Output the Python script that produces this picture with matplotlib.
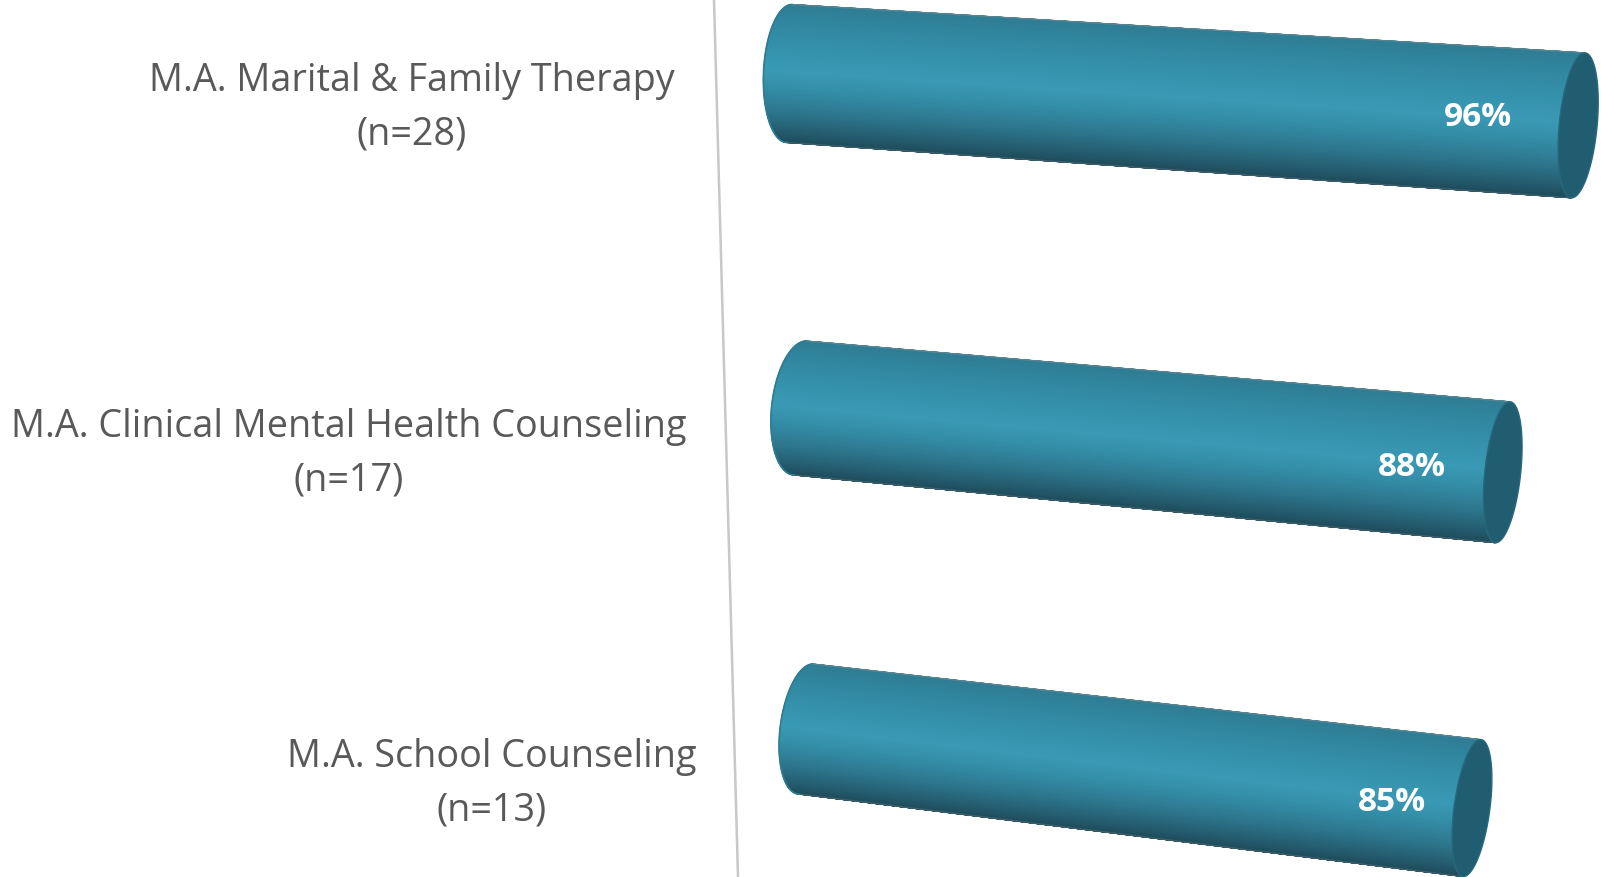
import numpy as np
import matplotlib
matplotlib.use("Agg")
import matplotlib.pyplot as plt
from matplotlib.colors import LinearSegmentedColormap
from matplotlib.patches import Polygon

categories = ["M.A. Marital & Family Therapy\n(n=28)",
              "M.A. Clinical Mental Health Counseling\n(n=17)",
              "M.A. School Counseling\n(n=13)"]
values = [96, 88, 85]
value_labels = ["96%", "88%", "85%"]

W, H = 1601, 877
# Pseudo-3D scene geometry (pixels): one entry per row
start_cx = [789.5, 800.5, 806.0]
start_cy = [73.5, 408.0, 729.0]
px_per_pct = [8.215, 7.980, 7.835]
y_per_pct = [0.54, 0.73, 0.93]
start_major = [(2.5, -69), (6, -67), (7, -65)]
end_major = [(6.5, -72.5), (7, -70.5), (8.5, -68.5)]
start_minor = [26, 29, 26]
end_minor = [19, 18, 18]
label_xy = [(412, 81), (349, 427), (492, 757)]
value_offset = [(-100, -8), (-91, -5), (-80, -6)]

fig = plt.figure(figsize=(W / 100, H / 100), dpi=100)
ax = fig.add_axes([0, 0, 1, 1])
ax.set_xlim(0, W)
ax.set_ylim(H, 0)
ax.axis("off")

cmap = LinearSegmentedColormap.from_list("cyl", [
    (0.00, "#2e7d94"), (0.10, "#30859e"), (0.30, "#3491ac"), (0.47, "#3a9ab5"),
    (0.60, "#348ea8"), (0.75, "#2e7a91"), (0.90, "#265f72"), (1.00, "#1e4c5b")])
CAP = "#215d71"
TEXT = "#595959"

ax.plot([714, 738], [0, H], color="#c8c8c8", lw=1.8, zorder=1, solid_capstyle="butt")

phi = np.linspace(-np.pi / 2, np.pi / 2, 121)
for i, v in enumerate(values):
    x0, y0 = start_cx[i], start_cy[i]
    x1 = x0 + v * px_per_pct[i]
    y1 = y0 + v * y_per_pct[i]
    u = np.linspace(0, 1, 60)[:, None]
    cx = x0 + (x1 - x0) * u
    cy = y0 + (y1 - y0) * u
    mx = start_major[i][0] + (end_major[i][0] - start_major[i][0]) * u
    my = start_major[i][1] + (end_major[i][1] - start_major[i][1]) * u
    mn = start_minor[i] + (end_minor[i] - start_minor[i]) * u
    X = cx + mx * np.sin(phi)[None, :] - mn * np.cos(phi)[None, :]
    Y = cy + my * np.sin(phi)[None, :]
    C = np.tile((1 - np.sin(phi)) / 2, (60, 1))
    ax.pcolormesh(X, Y, C, cmap=cmap, vmin=0, vmax=1, shading="gouraud", zorder=2)
    # silhouette smoothing
    ax.plot(X[0, :], Y[0, :], color="#2f7c93", lw=1.2, zorder=2.1)
    ax.plot(X[:, -1], Y[:, -1], color="#7c8c92", lw=1.0, alpha=0.55, zorder=2.1)
    ax.plot(X[:, 0], Y[:, 0], color="#5f6f75", lw=1.0, alpha=0.55, zorder=2.1)
    # end cap ellipse
    t = np.linspace(0, 2 * np.pi, 200)
    ex = x1 + end_major[i][0] * np.sin(t) - end_minor[i] * np.cos(t)
    ey = y1 + end_major[i][1] * np.sin(t)
    ax.add_patch(Polygon(np.c_[ex, ey], closed=True, facecolor=CAP, edgecolor="#28687c",
                         lw=1.0, zorder=3))
    ax.text(x1 + value_offset[i][0], y1 + value_offset[i][1], value_labels[i], color="white",
            fontsize=24, fontweight="bold", family="Open Sans", ha="center", va="center", zorder=4)
    first, second = categories[i].split("\n")
    ax.text(label_xy[i][0], label_xy[i][1], first, color=TEXT,
            fontsize=27.15, family="Open Sans", ha="center", va="center", zorder=4)
    ax.text(label_xy[i][0], label_xy[i][1] + 53, second, color=TEXT,
            fontsize=27.15, family="Open Sans", ha="center", va="center", zorder=4)

fig.savefig("out.png", dpi=100)
